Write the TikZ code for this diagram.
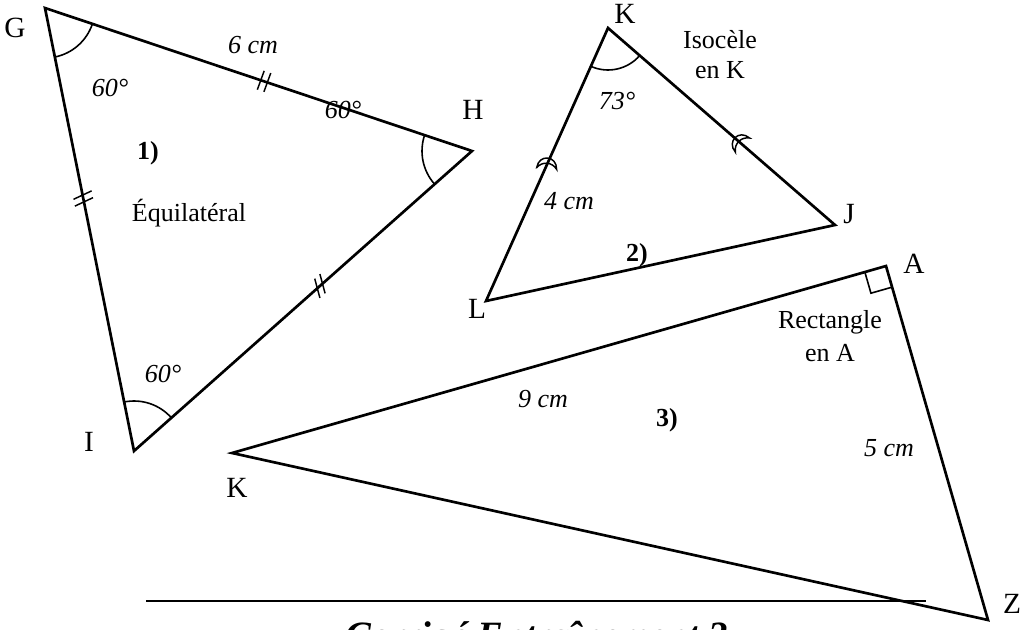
\documentclass[tikz,border=0pt]{standalone}
\usepackage{fontspec}
\setmainfont{Liberation Serif}
\usetikzlibrary{calc,angles}
\begin{document}
\begin{tikzpicture}[x=0.75pt,y=0.75pt,
  side/.style={line width=2pt, line join=miter},
  arcm/.style={draw, line width=1.2pt, angle radius=37.5pt},
  tickl/.style={line width=1.1pt},
  lab/.style={inner sep=0pt, font=\fontsize{19.5}{22}\selectfont},
  vlab/.style={inner sep=0pt, font=\fontsize{22}{24}\selectfont},
  ital/.style={inner sep=0pt, font=\fontsize{19.5}{22}\selectfont\itshape},
  bld/.style={inner sep=0pt, font=\fontsize{19.5}{22}\selectfont\bfseries}]
\useasboundingbox (0,0) rectangle (1030,-630);
\clip (0,0) rectangle (1030,-630);

% Triangle 1
\coordinate (G) at (45,-8);
\coordinate (H) at (472,-151);
\coordinate (I) at (134,-451);
\draw[side] (G) -- (H) -- (I) -- cycle;
\pic[arcm] {angle = I--G--H};
\pic[arcm] {angle = G--H--I};
\pic[arcm] {angle = H--I--G};
\foreach \p/\q/\t/\a in {G/H/0.513/70, G/I/0.43/25, I/H/0.55/105} {
  \coordinate (m) at ($(\p)!\t!(\q)$);
  \foreach \s in {-2.6pt,2.6pt}
    \draw[tickl] ($(m)!\s!(\q)$) +(\a:10) -- +(\a+180:10);
}
\node[vlab] (lG) at (15,-28) {G};
\node[vlab] (lH) at (473,-110) {H};
\node[vlab] (lI) at (89,-442) {I};
\node[ital] (a1) at (110,-88) {60°};
\node[ital] (a2) at (343,-110) {60°};
\node[ital] (a3) at (163,-374) {60°};
\node[ital] (s1) at (253,-45) {6 cm};
\node[bld] (n1) at (148,-153) {1)};
\node[lab] (e1) at (189,-213) {Équilatéral};

% Triangle 2
\coordinate (K2) at (608,-28);
\coordinate (J) at (835,-225);
\coordinate (L) at (486,-301);
\draw[side] (K2) -- (J) -- (L) -- cycle;
\pic[arcm, angle radius=31.5pt] {angle = L--K2--J};
\coordinate (c1) at ($(K2)!0.5!(L)$);
\coordinate (c2) at ($(K2)!0.58!(J)$);
\draw[tickl, shift={(c1)}, rotate=-5] (-10,-4) .. controls (-9,10) and (9,10) .. (10,-4) .. controls (5,3) and (-5,3) .. cycle;
\draw[tickl, shift={(c2)}, rotate=45] (-10,-4) .. controls (-9,10) and (9,10) .. (10,-4) .. controls (5,3) and (-5,3) .. cycle;
\node[vlab] (lK2) at (625,-14) {K};
\node[vlab] (lJ) at (849,-214) {J};
\node[vlab] (lL) at (477,-309) {L};
\node[ital] (a4) at (617,-101) {73°};
\node[ital] (s2) at (569,-201) {4 cm};
\node[bld] (n2) at (637,-255) {2)};
\node[lab] (iso1) at (720,-40) {Isocèle};
\node[lab] (iso2) at (720,-70) {en K};

% Triangle 3
\coordinate (A) at (886,-266);
\coordinate (K3) at (232,-453);
\coordinate (Z) at (988,-620);
\draw[side] (A) -- (K3) -- (Z) -- cycle;
\pic[draw, line width=1.2pt, angle radius=16.5pt] {right angle = K3--A--Z};
\node[vlab] (lA) at (914,-264) {A};
\node[vlab] (lK3) at (237,-488) {K};
\node[vlab] (lZ) at (1012,-604) {Z};
\node[ital] (s3) at (543,-399) {9 cm};
\node[bld] (n3) at (667,-420) {3)};
\node[ital] (s4) at (889,-448) {5 cm};
\node[lab] (r1) at (830,-322) {Rectangle};
\node[lab] (r2) at (830,-353) {en A};

% Footer
\coordinate (f1) at (146,-601);
\coordinate (f2) at (926,-601);
\draw[line width=1.5pt] (f1) -- (f2);
\node[anchor=base, inner sep=0pt, font=\fontsize{29}{30}\selectfont\bfseries\itshape] (title) at (537,-648) {Corrigé Entraînement 2};
\end{tikzpicture}
\end{document}
